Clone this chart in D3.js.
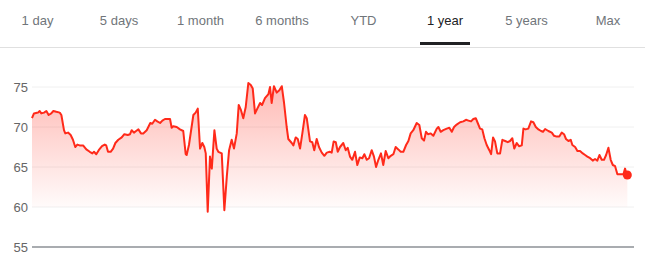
<!DOCTYPE html>
<html><head><meta charset="utf-8">
<script src="https://cdn.jsdelivr.net/npm/d3@7/dist/d3.min.js"></script>
<style>html,body{margin:0;padding:0;background:#fff;}svg{display:block;}</style>
</head><body>
<script>
const tabs = ["1 day","5 days","1 month","6 months","YTD","1 year","5 years","Max"];
const activeTab = "1 year";
const yTicks = [55,60,65,70,75];
// day offset within the year
const days = [0,1.2,3.7,4.7,5.7,7.4,8.8,10.2,11.8,13.1,14.9,17.0,18.0,19.6,20.4,22.1,23.7,25.1,26.5,27.8,29.2,31.3,33.3,35.4,37.0,38.0,39.4,40.9,42.9,44.6,45.5,46.6,48.2,49.7,51.1,
52.9,55.0,56.6,58.7,60.1,61.1,62.5,63.8,65.2,66.8,68.2,70.3,71.3,72.5,73.7,75.4,76.8,78.5,79.9,81.5,83.6,84.6,85.6,86.6,88.7,90.7,92.7,94.2,94.8,96.2,98.9,100.3,101.6,
103.0,104.4,105.6,106.5,107.7,109.1,110.2,111.8,113.2,114.2,116.3,117.9,119.4,120.8,122.4,123.8,125.5,126.7,128.1,129.5,131.0,132.6,134.1,135.3,136.7,138.1,139.8,141.0,142.8,144.9,145.9,146.9,148.3,150.0,151.6,153.1,154.5,
156.1,157.1,159.2,160.2,161.6,162.9,164.3,165.7,167.3,168.4,170.4,171.8,173.0,174.5,175.9,177.6,179.2,180.7,182.5,183.7,184.9,186.2,187.4,188.8,190.8,192.3,193.5,194.9,196.3,198.0,199.4,200.9,202.5,203.7,205.2,206.6,
208.2,209.6,210.9,212.3,213.9,215.3,216.8,218.4,219.9,221.5,222.9,224.5,226.0,227.6,229.3,230.7,232.1,233.7,235.8,237.4,238.9,240.3,241.5,242.7,244.4,246.0,248.1,249.1,250.5,252.1,254.2,255.8,257.3,258.7,260.3,
262.4,264.4,266.0,267.5,269.1,270.5,272.0,273.2,274.6,276.0,277.3,278.7,280.3,281.4,282.6,283.8,285.2,286.9,288.3,290.0,291.6,293.0,294.4,295.6,297.1,298.5,300.2,301.2,302.6,304.2,305.9,307.3,308.8,310.4,312.0,313.2,
314.5,316.5,318.6,320.0,321.6,323.2,324.7,326.1,327.3,328.8,330.2,331.2,332.9,334.3,335.9,337.6,339.0,340.4,342.1,343.7,345.1,346.5,347.8,349.2,350.6,351.9,353.3,354.7,356.0,357.4,358.8,360.0,361.5,362.5,363.5,364.1,364.9];
const prices = [71.1,71.7,71.8,72.0,71.7,71.8,72.0,71.5,71.7,72.0,71.9,71.8,71.5,69.6,69.2,69.3,69.0,68.4,67.5,67.8,67.7,67.7,67.2,66.9,66.7,66.9,66.6,67.1,67.6,67.8,67.7,66.9,66.9,67.3,68.0,
68.4,68.7,69.1,69.0,69.1,69.6,69.3,69.5,69.7,69.2,69.2,69.6,70.0,70.5,70.4,70.9,70.7,70.5,70.8,71.0,71.0,71.0,69.9,70.1,70.0,69.7,69.5,66.6,66.5,67.75,71.5,71.8,72.3,
67.3,68.0,67.5,66.7,59.4,66.3,64.8,69.6,67.3,66.9,66.7,59.6,63.8,67.1,68.4,67.3,69.2,72.75,72.1,71.1,72.5,75.5,75.25,74.8,71.7,72.3,73.0,72.75,73.6,74.1,75.0,73.0,75.1,74.3,74.6,75.1,73.0,
70.0,68.5,68.0,67.7,68.7,68.5,67.3,69.2,71.5,71.1,68.2,68.1,67.1,68.5,67.5,66.8,66.4,66.8,66.9,66.8,68.2,68.1,66.9,67.5,68.0,67.1,67.4,66.3,65.9,66.9,65.25,66.2,66.1,66.6,65.9,66.1,
67.1,66.3,65.0,65.9,66.7,65.25,67.0,66.1,66.4,66.6,67.5,67.2,66.9,66.9,67.75,68.25,69.2,69.6,70.5,70.25,68.6,68.3,69.4,69.1,69.2,68.9,69.8,70.0,69.4,69.6,69.8,69.9,69.4,70.0,70.3,
70.6,70.7,70.9,70.8,70.7,71.0,71.1,70.5,69.8,69.7,68.6,67.75,67.1,66.6,68.7,68.2,66.7,66.7,68.4,68.25,68.1,68.25,68.6,67.3,68.0,67.6,67.7,69.8,69.7,69.8,70.7,70.6,70.0,69.7,69.5,69.4,
69.75,69.5,69.3,68.9,68.8,68.8,69.3,69.1,68.5,68.25,68.4,67.75,67.5,67.0,67.0,66.7,66.5,66.3,66.1,65.8,66.0,65.8,66.5,65.9,65.9,66.5,67.4,65.9,65.25,65.1,64.1,64.1,64.1,64.1,64.8,64.3,64.0];

const W = 645, H = 262;
const svg = d3.select("body").append("svg").attr("width", W).attr("height", H);
const font = "'Liberation Sans', Arial, sans-serif";

// tabs
const tabX = d3.scalePoint().domain(tabs).range([37.5, 608]);
svg.append("line").attr("x1",0).attr("x2",W).attr("y1",47.5).attr("y2",47.5)
  .attr("stroke","#e0e0e0").attr("stroke-width",1);
svg.selectAll("text.tab").data(tabs).join("text").attr("class","tab")
  .attr("x", d => tabX(d)).attr("y", 25).attr("text-anchor","middle")
  .attr("font-family", font).attr("font-size", 13)
  .attr("fill", d => d === activeTab ? "#202124" : "#70757a")
  .text(d => d);
svg.append("rect").attr("x", tabX(activeTab) - 25).attr("y", 42).attr("width", 50).attr("height", 3)
  .attr("fill", "#202124");

// scales
const x = d3.scaleLinear().domain([0, 365]).range([32, 627.5]);
const y = d3.scaleLinear().domain([55, 75]).range([247, 87]);
const data = days.map((d, i) => ({d, v: prices[i]}));

// gridlines
svg.append("g").selectAll("line").data(yTicks.filter(t => t !== 55)).join("line")
  .attr("x1", 32).attr("x2", 634).attr("y1", d => y(d)).attr("y2", d => y(d))
  .attr("stroke", "#f0f0f0").attr("stroke-width", 1);

// y labels
svg.append("g").selectAll("text").data(yTicks).join("text")
  .attr("x", 28).attr("y", d => y(d)).attr("dy", "0.35em").attr("text-anchor", "end")
  .attr("font-family", font).attr("font-size", 13).attr("fill", "#666")
  .text(d => d);

// gradient
const defs = svg.append("defs");
const grad = defs.append("linearGradient").attr("id", "fillGrad")
  .attr("gradientUnits", "userSpaceOnUse").attr("x1", 0).attr("x2", 0)
  .attr("y1", y(75.5)).attr("y2", y(60));
grad.append("stop").attr("offset", "0%").attr("stop-color", "#ff2a1a").attr("stop-opacity", 0.33);
grad.append("stop").attr("offset", "100%").attr("stop-color", "#ff2a1a").attr("stop-opacity", 0.02);

const area = d3.area().x(p => x(p.d)).y0(y(60)).y1(p => y(p.v)).curve(d3.curveLinear);
svg.append("path").datum(data).attr("d", area).attr("fill", "url(#fillGrad)");

// baseline
svg.append("line").attr("x1", 32).attr("x2", 634).attr("y1", y(55)).attr("y2", y(55))
  .attr("stroke", "#a9acb0").attr("stroke-width", 2);

const line = d3.line().x(p => x(p.d)).y(p => y(p.v));
svg.append("path").datum(data).attr("d", line).attr("fill", "none")
  .attr("stroke", "#ff2a1a").attr("stroke-width", 2).attr("stroke-linejoin", "round");

const last = data[data.length - 1];
svg.append("circle").attr("cx", x(last.d)).attr("cy", y(last.v)).attr("r", 4.5).attr("fill", "#ff2a1a");
</script>
</body></html>
